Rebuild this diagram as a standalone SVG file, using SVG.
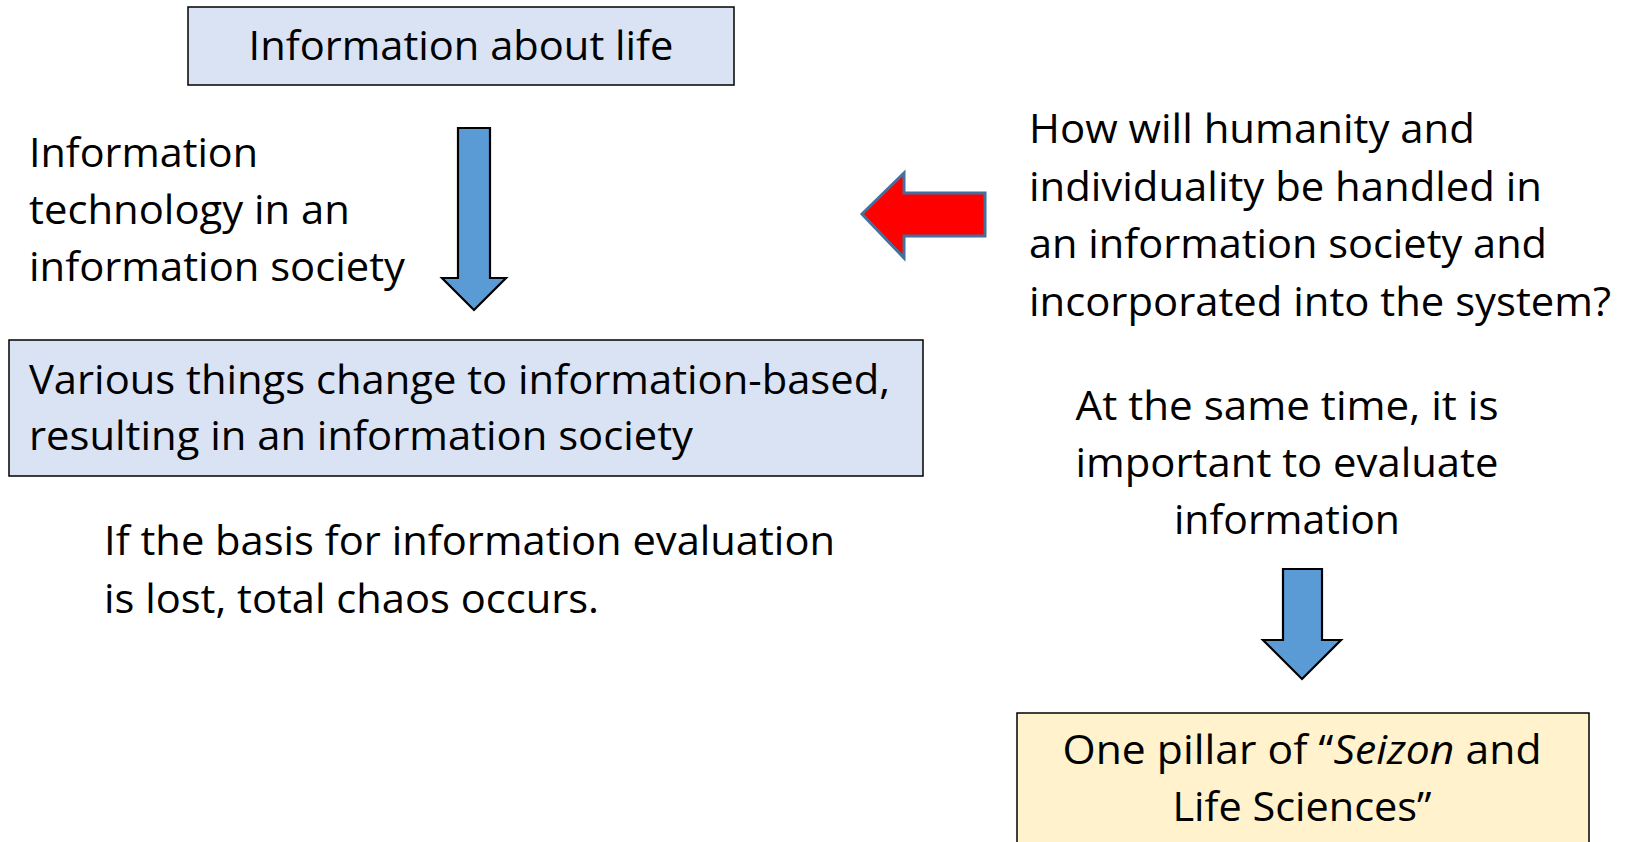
<svg xmlns="http://www.w3.org/2000/svg" width="1626" height="842" viewBox="0 0 1626 842">
<style>
.t{font-family:"Open Sans","Noto Sans","Liberation Sans",sans-serif;font-size:41px;fill:#000}
.c{text-anchor:middle}
.box{fill:#DAE3F3;stroke:#000;stroke-width:1.5}
.ybox{fill:#FFF2CC;stroke:#000;stroke-width:1.5}
.barrow{fill:#5B9BD5;stroke:#000;stroke-width:2.2;stroke-linejoin:miter}
.rarrow{fill:#FF0000;stroke:#41719C;stroke-width:3;stroke-linejoin:miter}
</style>
<rect width="1626" height="842" fill="#fff"/>
<g id="node-info-life">
<rect class="box" x="188" y="7" width="546" height="78"/>
<text class="t c" x="461" y="60" textLength="425" lengthAdjust="spacingAndGlyphs">Information about life</text>
</g>
<g id="node-it-label">
<text class="t" x="29" y="167" textLength="229" lengthAdjust="spacingAndGlyphs">Information</text>
<text class="t" x="29" y="224" textLength="321" lengthAdjust="spacingAndGlyphs">technology in an</text>
<text class="t" x="29" y="281" textLength="376" lengthAdjust="spacingAndGlyphs">information society</text>
</g>
<g id="node-various">
<rect class="box" x="9" y="340" width="914" height="136"/>
<text class="t" x="29" y="394" textLength="861" lengthAdjust="spacingAndGlyphs">Various things change to information-based,</text>
<text class="t" x="29" y="450" textLength="664" lengthAdjust="spacingAndGlyphs">resulting in an information society</text>
</g>
<g id="node-chaos">
<text class="t" x="104" y="555" textLength="731" lengthAdjust="spacingAndGlyphs">If the basis for information evaluation</text>
<text class="t" x="104" y="613" textLength="495" lengthAdjust="spacingAndGlyphs">is lost, total chaos occurs.</text>
</g>
<g id="node-humanity">
<text class="t" x="1029" y="143" textLength="446" lengthAdjust="spacingAndGlyphs">How will humanity and</text>
<text class="t" x="1029" y="201" textLength="513" lengthAdjust="spacingAndGlyphs">individuality be handled in</text>
<text class="t" x="1029" y="258" textLength="518" lengthAdjust="spacingAndGlyphs">an information society and</text>
<text class="t" x="1029" y="316" textLength="582" lengthAdjust="spacingAndGlyphs">incorporated into the system?</text>
</g>
<g id="node-evaluate">
<text class="t c" x="1287" y="420" textLength="423" lengthAdjust="spacingAndGlyphs">At the same time, it is</text>
<text class="t c" x="1287" y="477" textLength="423" lengthAdjust="spacingAndGlyphs">important to evaluate</text>
<text class="t c" x="1287" y="534" textLength="226" lengthAdjust="spacingAndGlyphs">information</text>
</g>
<g id="node-pillar">
<rect class="ybox" x="1017" y="713" width="572" height="140"/>
<text class="t c" x="1302" y="764" textLength="479" lengthAdjust="spacingAndGlyphs">One pillar of “<tspan font-style="italic">Seizon</tspan> and</text>
<text class="t c" x="1302" y="821" textLength="259" lengthAdjust="spacingAndGlyphs">Life Sciences”</text>
</g>
<g id="connectors">
<polygon class="barrow" points="458,128 490,128 490,278 506,278 474,310 442,278 458,278"/>
<polygon class="rarrow" points="862,214 904,173 904,193 985,193 985,236 904,236 904,258"/>
<polygon class="barrow" points="1283,569 1322,569 1322,640 1341,640 1302,679 1263,640 1283,640"/>
</g>
</svg>
